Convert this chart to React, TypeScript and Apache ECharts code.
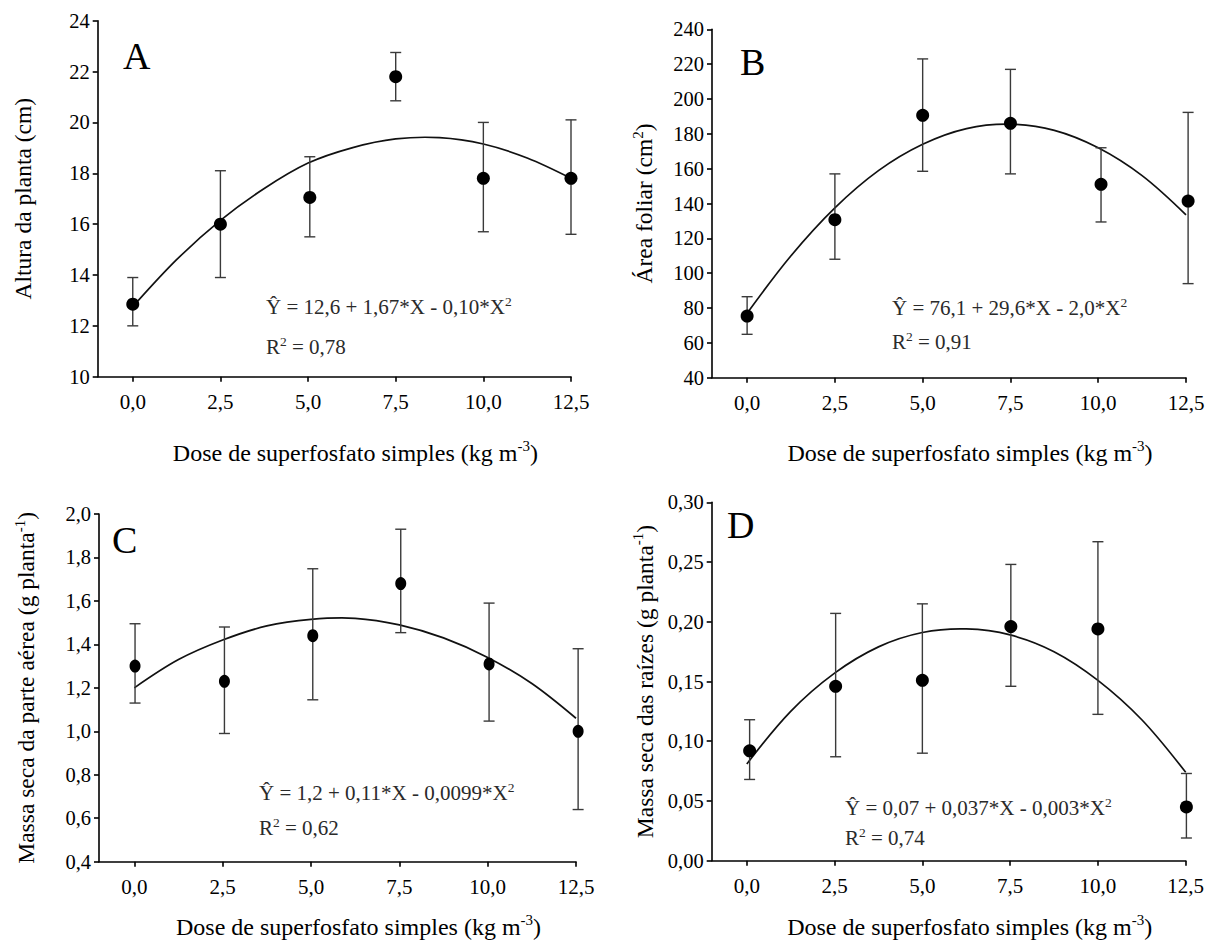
import React, { useEffect, useRef } from "react";
import * as echarts from "echarts";

// ---------- data ----------
const X_TICKS = [0, 2.5, 5, 7.5, 10, 12.5];
const CURVE_X = [0, 1.25, 2.5, 3.75, 5, 6.25, 7.5, 8.75, 10, 11.25, 12.5];

const A_X = [0, 2.5, 5.05, 7.5, 10, 12.5];
const A_Y = [12.85, 16.0, 17.05, 21.8, 17.8, 17.8];
const A_HI = [13.9, 18.1, 18.65, 22.75, 20.0, 20.1];
const A_LO = [12.0, 13.9, 15.5, 20.85, 15.7, 15.6];
const A_CURVE = [12.75, 14.6, 16.15, 17.4, 18.4, 19.0, 19.35, 19.4, 19.15, 18.6, 17.8];

const B_X = [0, 2.5, 5, 7.5, 10.08, 12.56];
const B_Y = [75.4, 130.7, 190.6, 186, 151, 141.4];
const B_HI = [86.5, 157, 223, 217, 172, 192.3];
const B_LO = [64.9, 108, 158.5, 157, 129.4, 94];
const B_CURVE = [77, 110, 137.5, 159, 174, 183, 185.5, 182, 172, 156, 133.5];

const C_X = [0.02, 2.55, 5.05, 7.54, 10.04, 12.56];
const C_Y = [1.30, 1.23, 1.44, 1.68, 1.31, 1.00];
const C_HI = [1.495, 1.48, 1.748, 1.93, 1.59, 1.38];
const C_LO = [1.13, 0.99, 1.145, 1.454, 1.047, 0.64];
const C_CURVE = [1.20, 1.33, 1.42, 1.485, 1.515, 1.52, 1.49, 1.43, 1.34, 1.22, 1.06];

const D_X = [0.08, 2.53, 5.0, 7.52, 10.0, 12.52];
const D_Y = [0.092, 0.146, 0.151, 0.196, 0.194, 0.045];
const D_HI = [0.118, 0.207, 0.215, 0.248, 0.267, 0.073];
const D_LO = [0.068, 0.087, 0.09, 0.146, 0.1225, 0.019];
const D_CURVE = [0.081, 0.125, 0.157, 0.179, 0.191, 0.194, 0.189, 0.175, 0.151, 0.118, 0.074];

const X_NAME = "Dose de superfosfato simples (kg m{sup|-3})";
const Y_NAMES = [
  "Altura da planta (cm)",
  "Área foliar (cm{sup|2})",
  "Massa seca da parte aérea (g planta{sup|-1})",
  "Massa seca das raízes (g planta{sup|-1})",
];
const EQUATIONS = [
  "Ŷ = 12,6 + 1,67*X - 0,10*X{sup|2}",
  "Ŷ = 76,1 + 29,6*X - 2,0*X{sup|2}",
  "Ŷ = 1,2 + 0,11*X - 0,0099*X{sup|2}",
  "Ŷ = 0,07 + 0,037*X - 0,003*X{sup|2}",
];
const R2 = ["R{sup|2} = 0,78", "R{sup|2} = 0,91", "R{sup|2} = 0,62", "R{sup|2} = 0,74"];
const LETTERS = ["A", "B", "C", "D"];

const FONT = "'Liberation Serif', 'Times New Roman', serif";

const PANELS = [
  { x: A_X, y: A_Y, hi: A_HI, lo: A_LO, curve: A_CURVE, ymin: 10, ymax: 24, yint: 2, dec: 0,
    grid: { left: 97.7, top: 20.7, width: 473.3, height: 356 }, sym: 13, ygap: 61, xgap: 62 },
  { x: B_X, y: B_Y, hi: B_HI, lo: B_LO, curve: B_CURVE, ymin: 40, ymax: 240, yint: 20, dec: 0,
    grid: { left: 712, top: 29.3, width: 474, height: 348.4 }, sym: 13, ygap: 54, xgap: 61 },
  { x: C_X, y: C_Y, hi: C_HI, lo: C_LO, curve: C_CURVE, ymin: 0.4, ymax: 2.0, yint: 0.2, dec: 1,
    grid: { left: 99, top: 514, width: 477, height: 347.7 }, sym: [11, 13], ygap: 59, xgap: 51 },
  { x: D_X, y: D_Y, hi: D_HI, lo: D_LO, curve: D_CURVE, ymin: 0, ymax: 0.3, yint: 0.05, dec: 2,
    grid: { left: 711.7, top: 502.3, width: 474, height: 358.4 }, sym: 13, ygap: 53, xgap: 52 },
];

const EQ_POS = [
  { x: 266, y: 307, ry: 347 },
  { x: 892, y: 308, ry: 342 },
  { x: 259, y: 793, ry: 828 },
  { x: 845, y: 808, ry: 838 },
];
const LETTER_POS = [
  { x: 123, y: 56 },
  { x: 740, y: 62 },
  { x: 112, y: 540 },
  { x: 727, y: 525 },
];

const supRich = (size: number, color: string) => ({
  sup: { fontSize: size, lineHeight: size, verticalAlign: "top", fontFamily: FONT, color, fill: color },
});

function buildOption() {
  const grids: any[] = [];
  const xAxes: any[] = [];
  const yAxes: any[] = [];
  const series: any[] = [];
  const graphic: any[] = [];

  PANELS.forEach((p, i) => {
    grids.push({ ...p.grid, outerBoundsMode: "none", containLabel: false });
    xAxes.push({
      type: "value",
      gridIndex: i,
      min: -1,
      max: 12.5,
      splitLine: { show: false },
      axisLine: { onZero: false, lineStyle: { color: "#000", width: 1.6 } },
      axisTick: { customValues: X_TICKS, length: 5, lineStyle: { color: "#000", width: 1.6 } },
      axisLabel: {
        customValues: X_TICKS,
        margin: 15,
        color: "#000",
        fontFamily: FONT,
        fontSize: 21,
        formatter: (v: number) => v.toFixed(1).replace(".", ","),
      },
      name: X_NAME,
      nameLocation: "middle",
      nameGap: p.xgap,
      nameTextStyle: {
        color: "#000",
        fontFamily: FONT,
        fontSize: 24,
        lineHeight: 28,
        padding: [0, 0, 0, 42],
        rich: supRich(15, "#000"),
      },
    });
    yAxes.push({
      type: "value",
      gridIndex: i,
      min: p.ymin,
      max: p.ymax,
      interval: p.yint,
      splitLine: { show: false },
      axisLine: { show: true, onZero: false, lineStyle: { color: "#000", width: 1.6 } },
      axisTick: { show: true, length: 5, lineStyle: { color: "#000", width: 1.6 } },
      axisLabel: {
        margin: 8,
        color: "#000",
        fontFamily: FONT,
        fontSize: 20.5,
        formatter: (v: number) => v.toFixed(p.dec).replace(".", ","),
      },
      name: Y_NAMES[i],
      nameLocation: "middle",
      nameRotate: 90,
      nameGap: p.ygap,
      nameTextStyle: {
        color: "#000",
        fontFamily: FONT,
        fontSize: 23.5,
        lineHeight: 28,
        rich: supRich(15, "#000"),
      },
    });

    // fitted curve: one custom item that draws a smooth polyline through the read points
    series.push({
      type: "custom",
      xAxisIndex: i,
      yAxisIndex: i,
      data: [[CURVE_X[0], p.curve[0]]],
      renderItem: (params: any, api: any) => {
        const pts = CURVE_X.map((x, k) => api.coord([x, p.curve[k]]));
        return {
          type: "polyline",
          shape: { points: pts, smooth: 0.35 },
          style: { stroke: "#111", lineWidth: 1.7, fill: "none" },
        };
      },
      z: 2,
    });
    // error bars
    series.push({
      type: "custom",
      xAxisIndex: i,
      yAxisIndex: i,
      clip: false,
      data: p.x.map((x, k) => [x, p.lo[k], p.hi[k]]),
      renderItem: (params: any, api: any) => {
        const x = api.value(0);
        const pHi = api.coord([x, api.value(2)]);
        const pLo = api.coord([x, api.value(1)]);
        const w = 5.5;
        const st = { stroke: "#3a3a3a", lineWidth: 1.4 };
        return {
          type: "group",
          children: [
            { type: "line", shape: { x1: pHi[0], y1: pHi[1], x2: pLo[0], y2: pLo[1] }, style: st },
            { type: "line", shape: { x1: pHi[0] - w, y1: pHi[1], x2: pHi[0] + w, y2: pHi[1] }, style: st },
            { type: "line", shape: { x1: pLo[0] - w, y1: pLo[1], x2: pLo[0] + w, y2: pLo[1] }, style: st },
          ],
        };
      },
      z: 3,
    });
    // means
    series.push({
      type: "scatter",
      xAxisIndex: i,
      yAxisIndex: i,
      clip: false,
      data: p.x.map((x, k) => [x, p.y[k]]),
      symbol: "circle",
      symbolSize: p.sym,
      itemStyle: { color: "#000", opacity: 1 },
      z: 4,
    });

    graphic.push({
      type: "text",
      x: EQ_POS[i].x,
      y: EQ_POS[i].y,
      style: {
        text: EQUATIONS[i],
        fontFamily: FONT,
        fontSize: 21,
        lineHeight: 25,
        fill: "#2a2a2a",
        verticalAlign: "middle",
        align: "left",
        rich: supRich(13.5, "#2a2a2a"),
      },
    });
    graphic.push({
      type: "text",
      x: EQ_POS[i].x,
      y: EQ_POS[i].ry,
      style: {
        text: R2[i],
        fontFamily: FONT,
        fontSize: 21,
        lineHeight: 25,
        fill: "#2a2a2a",
        verticalAlign: "middle",
        align: "left",
        rich: supRich(13.5, "#2a2a2a"),
      },
    });
    graphic.push({
      type: "text",
      x: LETTER_POS[i].x,
      y: LETTER_POS[i].y,
      style: {
        text: LETTERS[i],
        fontFamily: FONT,
        fontSize: 38,
        fill: "#000",
        verticalAlign: "middle",
        align: "left",
      },
    });
  });

  return {
    animation: false,
    backgroundColor: "#fff",
    textStyle: { fontFamily: FONT },
    grid: grids,
    xAxis: xAxes,
    yAxis: yAxes,
    series,
    graphic,
  };
}

export default function App() {
  const ref = useRef<HTMLDivElement>(null);
  useEffect(() => {
    if (!ref.current) return;
    const chart = echarts.init(ref.current, undefined, { renderer: "svg" });
    chart.setOption(buildOption() as any);
    return () => chart.dispose();
  }, []);
  return (
    <div
      ref={ref}
      style={{ position: "absolute", left: 0, top: 0, width: 1205, height: 944, background: "#fff" }}
    />
  );
}
